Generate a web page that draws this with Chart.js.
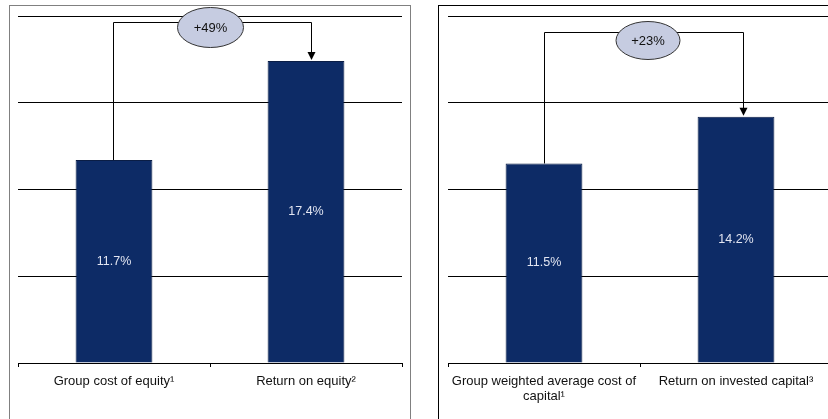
<!DOCTYPE html>
<html>
<head>
<meta charset="utf-8">
<script src="https://cdn.jsdelivr.net/npm/chart.js@4/dist/chart.umd.min.js"></script>
<style>
  html, body { margin: 0; padding: 0; width: 828px; height: 419px; overflow: hidden; background: #fff; }
  .panel { position: absolute; box-sizing: border-box; }
  #leftPanel { left: 9px; top: 5px; width: 402px; height: 430px; border: 1.5px solid #808080; border-bottom: none; }
  #rightPanel { left: 438px; top: 5px; width: 420px; height: 430px; border-left: 1px solid #000; border-top: 1px solid #000; }
  .wrap { position: absolute; top: 5px; width: 402px; height: 414px; }
  #leftWrap { left: 9px; }
  #rightWrap { left: 439px; }
</style>
</head>
<body>
<div class="panel" id="leftPanel"></div>
<div class="panel" id="rightPanel"></div>
<div class="wrap" id="leftWrap"><canvas id="equityChart"></canvas></div>
<div class="wrap" id="rightWrap"><canvas id="capitalChart"></canvas></div>
<script>
// data
const equityLabels = ['Group cost of equity\u00b9', 'Return on equity\u00b2'];
const equityValues = [11.7, 17.4];
const equityChange = '+49%';

const capitalLabels = [['Group weighted average cost of', 'capital\u00b9'], 'Return on invested capital\u00b3'];
const capitalValues = [11.5, 14.2];
const capitalChange = '+23%';

const yMin = 0;
const yMax = 20;
const yStep = 5;

const FONT = "'Liberation Sans', Arial, sans-serif";
const BAR_COLOR = '#0d2b66';

// bracket with arrow + ellipse, and value labels in the bars
const bracketPlugin = {
  id: 'bracket',
  afterDatasetsDraw(chart, args, opts) {
    const ctx = chart.ctx;
    const meta = chart.getDatasetMeta(0);
    const values = chart.data.datasets[0].data;

    ctx.save();
    // value labels
    ctx.fillStyle = '#e2e5f1';
    ctx.font = '12.5px ' + FONT;
    ctx.textAlign = 'center';
    ctx.textBaseline = 'middle';
    meta.data.forEach((bar, i) => {
      ctx.fillText(values[i].toFixed(1) + '%', bar.x, (bar.y + bar.base) / 2);
    });

    const a = meta.data[0];
    const b = meta.data[1];
    const x1 = Math.round(a.x + opts.leftDx) + 0.5;
    const x2 = Math.round(b.x + opts.rightDx) + 0.5;
    const yLine = Math.round(chart.chartArea.top + opts.lineOffset) + 0.5;

    ctx.strokeStyle = '#000';
    ctx.lineWidth = 1;
    ctx.beginPath();
    ctx.moveTo(x1, a.y);
    ctx.lineTo(x1, yLine);
    ctx.lineTo(x2, yLine);
    ctx.lineTo(x2, b.y - 8);
    ctx.stroke();

    ctx.fillStyle = '#000';
    ctx.beginPath();
    ctx.moveTo(x2 - 4, b.y - 9);
    ctx.lineTo(x2 + 4, b.y - 9);
    ctx.lineTo(x2, b.y - 1);
    ctx.closePath();
    ctx.fill();

    // ellipse with change label
    const cx = (x1 + x2) / 2 + opts.ellipseDx;
    const cy = yLine + opts.ellipseDy;
    ctx.beginPath();
    ctx.ellipse(cx, cy, opts.rx, opts.ry, 0, 0, Math.PI * 2);
    ctx.fillStyle = '#c6cce1';
    ctx.fill();
    ctx.strokeStyle = '#333';
    ctx.stroke();

    ctx.fillStyle = '#111';
    ctx.font = '13px ' + FONT;
    ctx.fillText(opts.text, cx, cy + 1);
    ctx.restore();
  }
};

function makeChart(id, labels, values, bracket) {
  return new Chart(document.getElementById(id), {
    type: 'bar',
    data: {
      labels: labels,
      datasets: [{
        data: values,
        backgroundColor: BAR_COLOR,
        borderColor: '#0a1d45',
        borderWidth: 1,
        barPercentage: 0.4,
        categoryPercentage: 1
      }]
    },
    options: {
      responsive: true,
      maintainAspectRatio: false,
      animation: false,
      layout: { padding: { top: 11, left: 9, right: 9, bottom: 0 } },
      plugins: {
        legend: { display: false },
        tooltip: { enabled: false },
        bracket: bracket
      },
      scales: {
        x: {
          grid: {
            display: true,
            drawOnChartArea: false,
            drawTicks: true,
            tickLength: 4,
            color: '#000'
          },
          border: { display: true, color: '#000', width: 1 },
          ticks: {
            color: '#111',
            padding: 7,
            maxRotation: 0,
            autoSkip: false,
            font: { family: FONT, size: 13, lineHeight: 1.15 }
          },
          afterFit: (scale) => { scale.height = 56; }
        },
        y: {
          min: yMin,
          max: yMax,
          ticks: { display: false, stepSize: yStep },
          grid: { color: '#000', lineWidth: 1, drawTicks: false },
          border: { display: false },
          afterFit: (scale) => { scale.width = 0; }
        }
      }
    },
    plugins: [bracketPlugin]
  });
}

makeChart('equityChart', equityLabels, equityValues, {
  text: equityChange, leftDx: -1, rightDx: 5, lineOffset: 6,
  ellipseDx: -2, ellipseDy: 5, rx: 33, ry: 20
});

makeChart('capitalChart', capitalLabels, capitalValues, {
  text: capitalChange, leftDx: 0, rightDx: 7, lineOffset: 16,
  ellipseDx: 4, ellipseDy: 8, rx: 32, ry: 19
});
</script>
</body>
</html>
